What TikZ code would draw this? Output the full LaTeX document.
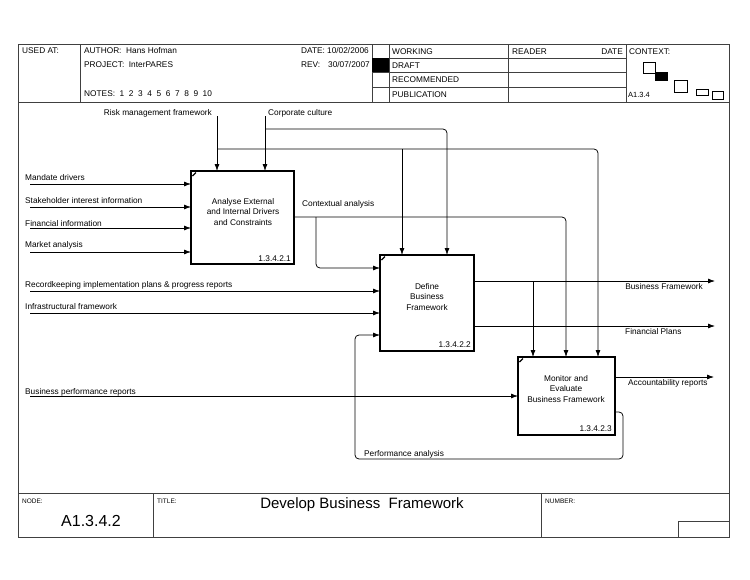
\documentclass[tikz,border=0pt]{standalone}
\usepackage{fontspec}
\setmainfont{Liberation Sans}
\usetikzlibrary{arrows.meta,calc}
\begin{document}
\begin{tikzpicture}[x=1pt,y=-1pt,
  frame/.style={draw=black!75,line width=0.8pt},
  box/.style={draw,line width=1.6pt,inner sep=0pt,outer sep=0pt,anchor=north west},
  conn/.style={draw,line width=0.75pt,rounded corners=4pt},
  arr/.style={conn,-{Latex[length=7pt,width=5pt]}},
  lbl/.style={font=\fontsize{8.3}{10}\selectfont,inner sep=0pt,anchor=base west},
  lble/.style={lbl,anchor=base east},
  tiny/.style={font=\fontsize{6.5}{8}\selectfont,inner sep=0pt,anchor=base west},
  boxtxt/.style={font=\fontsize{8.3}{10.6}\selectfont,align=center,inner sep=0pt},
  corner/.style={line width=1.2pt}]
\useasboundingbox (0,0) rectangle (750,579);
\fill[white] (0,0) rectangle (750,579);

% ---------- frame ----------
\draw[frame] (18,44) rectangle (729,537);
\draw[frame] (18,102) -- (729,102);
\draw[frame] (80,44) -- (80,102);
\draw[frame] (372,44) -- (372,102);
\draw[frame] (389,44) -- (389,102);
\draw[frame] (508,44) -- (508,102);
\draw[frame] (626,44) -- (626,102);
\draw[frame] (372,58) -- (626,58);
\draw[frame] (372,72) -- (626,72);
\draw[frame] (372,87) -- (626,87);
\fill[black] (372,58) rectangle (389,72);
\draw[frame] (18,493) -- (729,493);
\draw[frame] (153,493) -- (153,537);
\draw[frame] (541,493) -- (541,537);
\draw[frame] (678,521) rectangle (729,537);

% context boxes
\draw[line width=0.6pt] (643,62) rectangle (655,73);
\fill[black] (655,72) rectangle (668,81);
\draw[line width=0.6pt] (674,80) rectangle (687,92);
\draw[line width=0.6pt] (696,89) rectangle (708,95);
\draw[line width=0.6pt] (712,91) rectangle (723,99);

% header texts
\node[lbl] (usedat) at (22,53) {USED AT:};
\node[lbl] (author) at (84,53) {AUTHOR:\ \ Hans Hofman};
\node[lbl] (project) at (84,67) {PROJECT:\ \ InterPARES};
\node[lbl] (notes) at (84,96) {NOTES:\ \ 1\ \ 2\ \ 3\ \ 4\ \ 5\ \ 6\ \ 7\ \ 8\ \ 9\ \ 10};
\node[lbl] (date) at (301,53) {DATE:};
\node[lbl] (dateval) at (327,53) {10/02/2006};
\node[lbl] (rev) at (301,67) {REV:};
\node[lbl] (revval) at (328,67) {30/07/2007};
\node[lbl] (working) at (392,54) {WORKING};
\node[lbl] (draft) at (392,68) {DRAFT};
\node[lbl] (recommended) at (392,82) {RECOMMENDED};
\node[lbl] (publication) at (392,97) {PUBLICATION};
\node[lbl] (reader) at (512,54) {READER};
\node[lble] (date2) at (623,54) {DATE};
\node[lbl] (context) at (629,54) {CONTEXT:};
\node[tiny,font=\fontsize{7.5}{9}\selectfont] (ctxnode) at (628,97) {A1.3.4};

% footer texts
\node[tiny] (nodelbl) at (22,503) {NODE:};
\node[tiny] (titlelbl) at (157,503) {TITLE:};
\node[tiny] (numberlbl) at (545,503) {NUMBER:};
\node[font=\fontsize{15}{18}\selectfont,inner sep=0pt] (title) at (362,505) {Develop Business\ \ Framework};
\node[font=\fontsize{16}{19}\selectfont,inner sep=0pt] (nodeid) at (91,521) {A1.3.4.2};

% ---------- boxes ----------
\node[box,minimum width=103pt,minimum height=93pt] (b1) at (191,171) {};
\node[box,minimum width=94pt,minimum height=96pt] (b2) at (380,255) {};
\node[box,minimum width=97pt,minimum height=78pt] (b3) at (518,357) {};
\draw[corner] ($(b1.north west)+(1.5,5)$) -- ($(b1.north west)+(5,1.5)$);
\draw[corner] ($(b2.north west)+(1.5,5)$) -- ($(b2.north west)+(5,1.5)$);
\draw[corner] ($(b3.north west)+(1.5,5)$) -- ($(b3.north west)+(5,1.5)$);

\node[boxtxt] (t1) at (243,212) {Analyse External\\and Internal Drivers\\and Constraints};
\node[boxtxt] (t2) at (427,297) {Define\\Business\\Framework};
\node[boxtxt] (t3) at (566,389) {Monitor and\\Evaluate\\Business Framework};
\node[lble] (n1) at (291,261) {1.3.4.2.1};
\node[lble] (n2) at (471,347) {1.3.4.2.2};
\node[lble] (n3) at (612,431) {1.3.4.2.3};

% ---------- inputs to box 1 ----------
\coordinate (iMD) at (30,184);
\coordinate (iSI) at (30,207);
\coordinate (iFI) at (30,228);
\coordinate (iMA) at (30,252);
\draw[arr] (iMD) -- (iMD -| b1.west);
\draw[arr] (iSI) -- (iSI -| b1.west);
\draw[arr] (iFI) -- (iFI -| b1.west);
\draw[arr] (iMA) -- (iMA -| b1.west);
\node[lbl] (lMD) at (25,180) {Mandate drivers};
\node[lbl] (lSI) at (25,203) {Stakeholder interest information};
\node[lbl] (lFI) at (25,226) {Financial information};
\node[lbl] (lMA) at (25,247) {Market analysis};

% ---------- controls ----------
\coordinate (rk) at (217,116);
\coordinate (rkb) at (217,149);
\coordinate (c598) at (598,149);
\coordinate (c402) at (402,149);
\draw[arr] (rk) -- (rk |- b1.north);
\draw[arr] (rkb) -- (c598) -- (c598 |- b3.north);
\draw[arr] (c402) -- (c402 |- b2.north);
\node[lble] (lRK) at (212,115) {Risk management framework};

\coordinate (cc) at (265,116);
\coordinate (ccb) at (265,129);
\coordinate (c447) at (447,129);
\draw[arr] (cc) -- (cc |- b1.north);
\draw[arr] (ccb) -- (c447) -- (c447 |- b2.north);
\node[lbl] (lCC) at (268,115) {Corporate culture};

% ---------- contextual analysis ----------
\coordinate (caS) at ($(b1.north east)+(0,46)$);
\coordinate (c566) at (566,217);
\coordinate (c316) at (316,217);
\coordinate (c316b) at (316,268);
\draw[arr] (caS) -- (c566) -- (c566 |- b3.north);
\draw[arr] (c316) -- (c316b) -- (c316b -| b2.west);
\node[lbl] (lCA) at (302,206) {Contextual analysis};

% ---------- inputs to box 2 ----------
\coordinate (iRI) at (30,291);
\coordinate (iIF) at (30,313);
\draw[arr] (iRI) -- (iRI -| b2.west);
\draw[arr] (iIF) -- (iIF -| b2.west);
\node[lbl] (lRI) at (25,287) {Recordkeeping implementation plans \& progress reports};
\node[lbl] (lIF) at (25,309) {Infrastructural framework};

% ---------- outputs of box 2 ----------
\coordinate (bfS) at ($(b2.north east)+(0,26)$);
\coordinate (bfE) at (715,281);
\coordinate (c533) at (533,281);
\draw[arr] (bfS) -- (bfE);
\draw[arr] (c533) -- (c533 |- b3.north);
\node[lble] (lBF) at (703,289) {Business Framework};
\coordinate (fpS) at ($(b2.north east)+(0,71)$);
\coordinate (fpE) at (715,326);
\draw[arr] (fpS) -- (fpE);
\node[lbl] (lFP) at (625,334) {Financial Plans};

% ---------- box 3 ----------
\coordinate (iBP) at (30,396);
\draw[arr] (iBP) -- (iBP -| b3.west);
\node[lbl] (lBP) at (25,394) {Business performance reports};
\coordinate (arS) at ($(b3.north east)+(0,20)$);
\coordinate (arE) at (714,377);
\draw[arr] (arS) -- (arE);
\node[lbl] (lAR) at (628,385) {Accountability reports};

% performance analysis feedback
\coordinate (paS) at ($(b3.north east)+(0,55)$);
\coordinate (p1) at (623,412);
\coordinate (p2) at (623,459);
\coordinate (p3) at (355,459);
\coordinate (p4) at (355,335);
\draw[arr] (paS) -- (p1) -- (p2) -- (p3) -- (p4) -- (p4 -| b2.west);
\node[lbl] (lPA) at (364,456) {Performance analysis};
\end{tikzpicture}
\end{document}
